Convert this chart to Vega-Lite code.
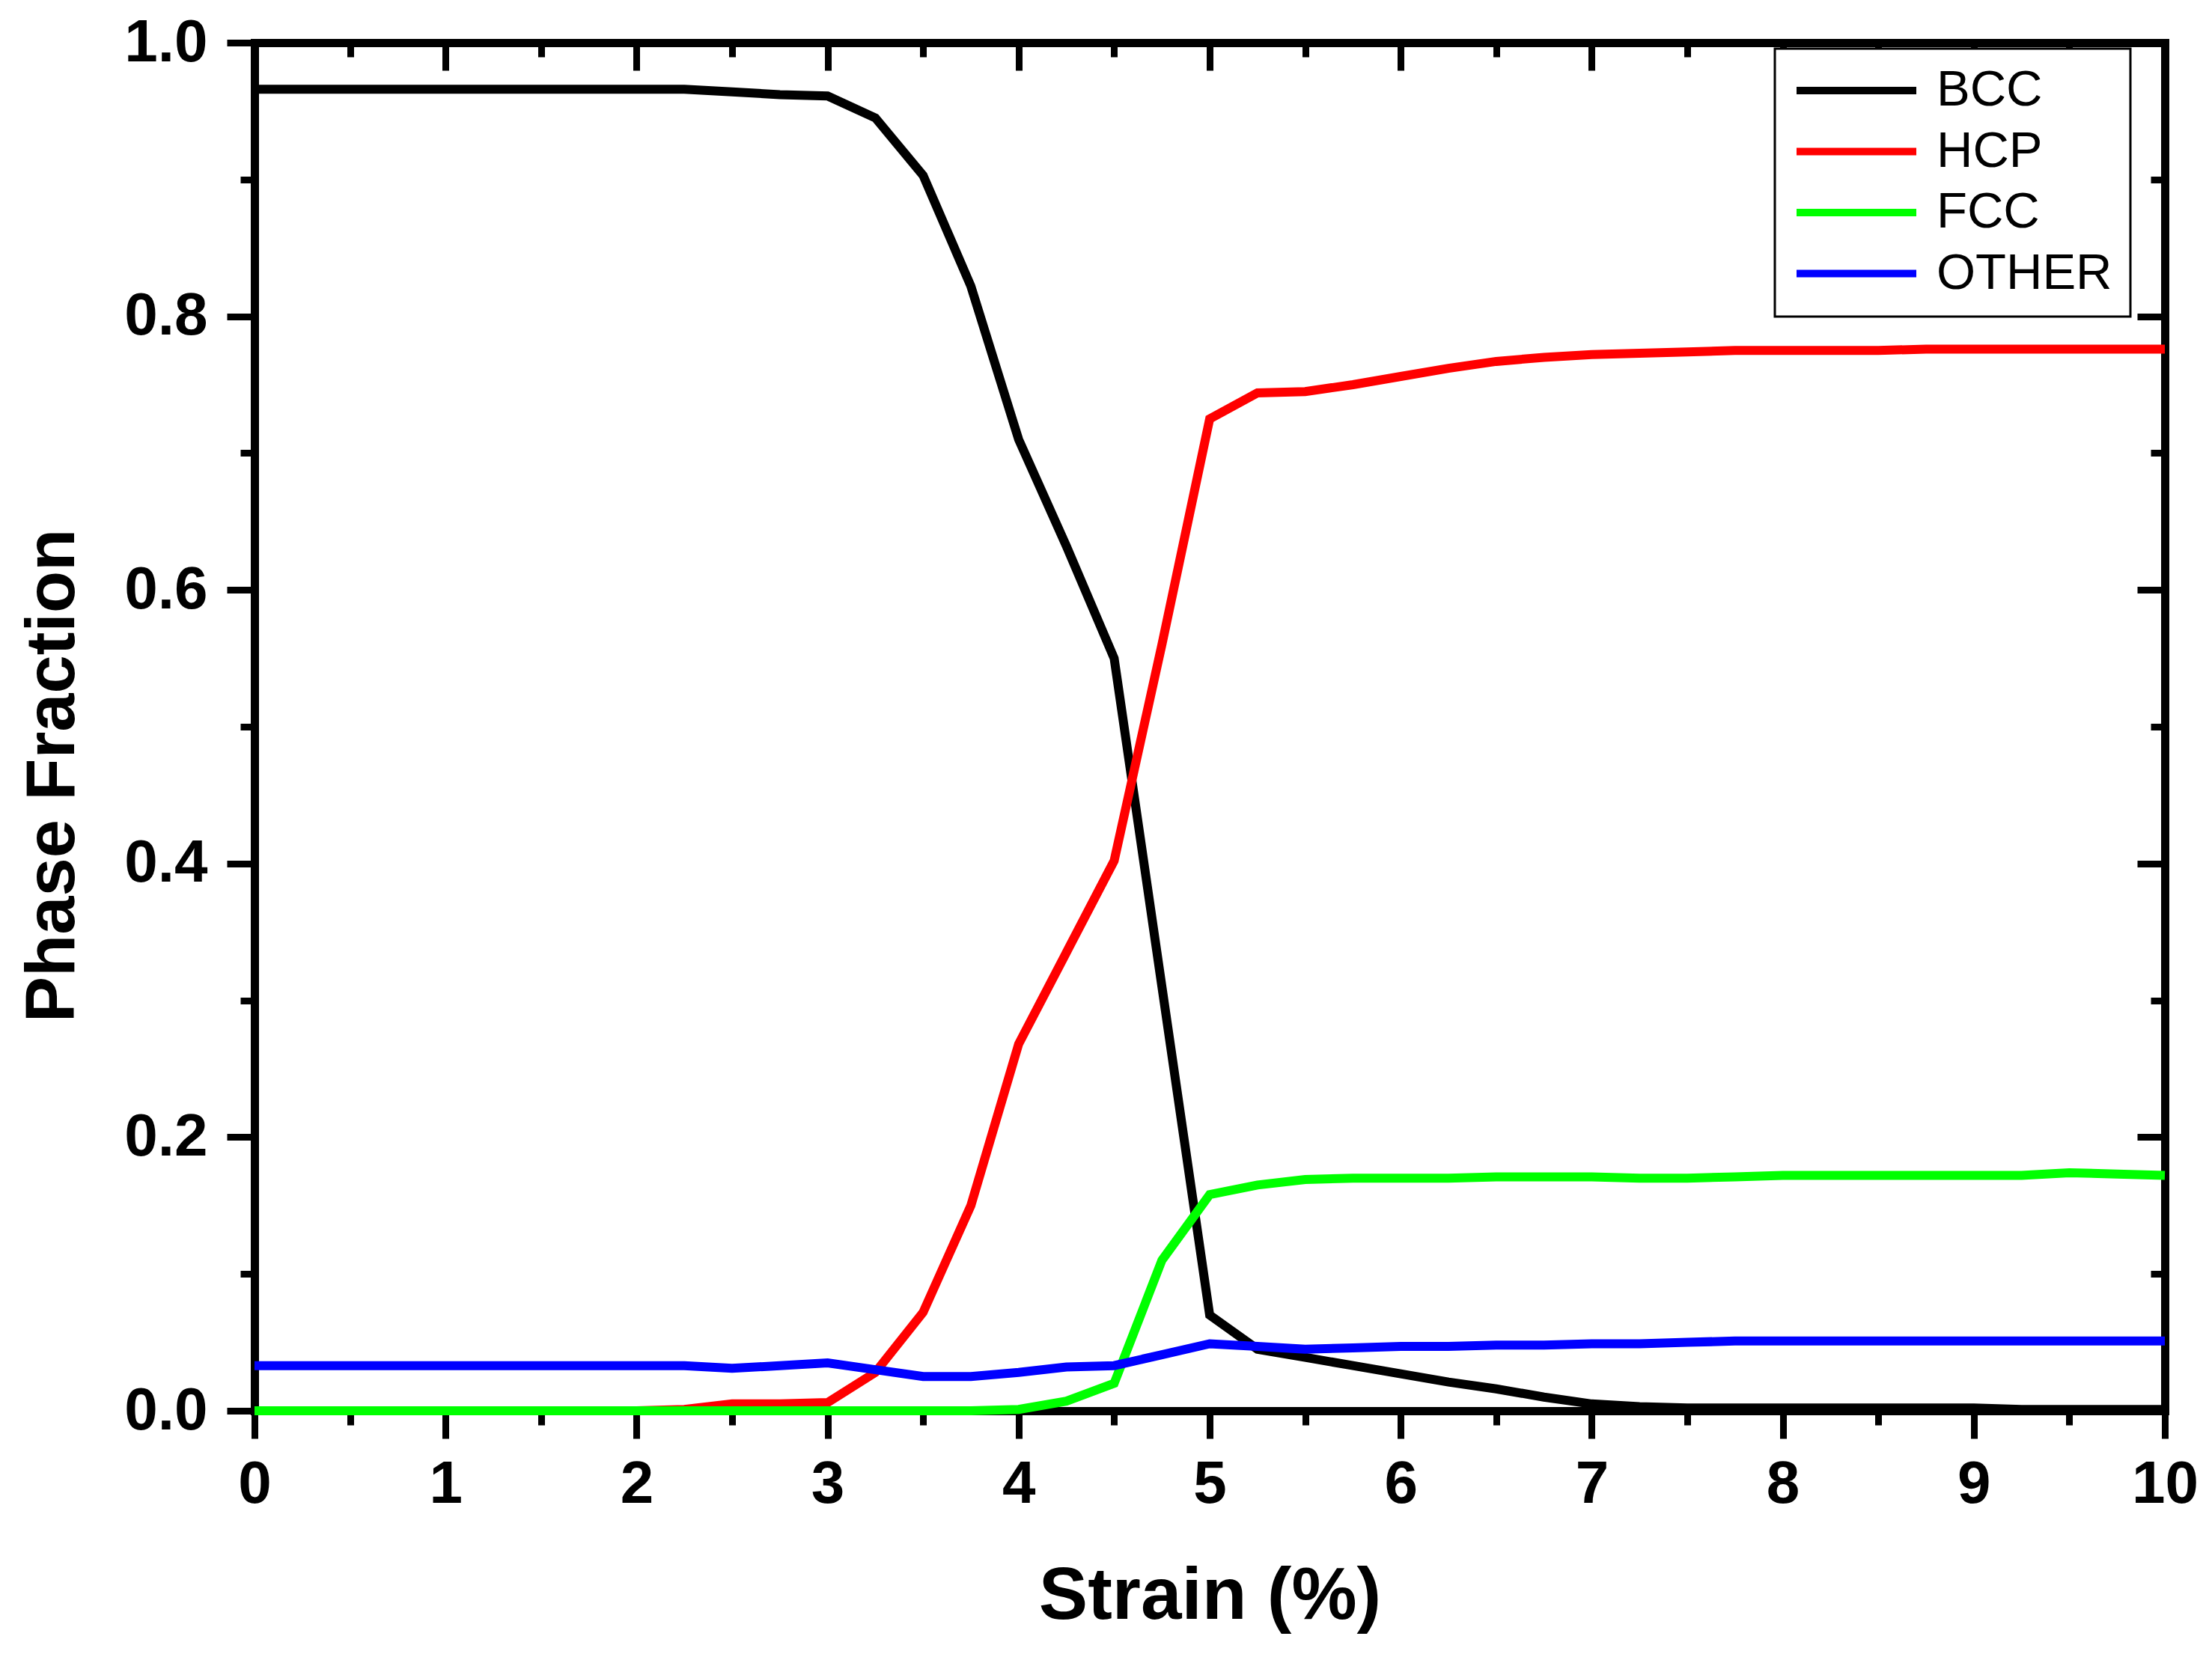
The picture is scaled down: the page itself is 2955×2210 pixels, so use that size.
{
  "$schema": "https://vega.github.io/schema/vega-lite/v6.json",
  "autosize": {"type": "none"},
  "padding": {"left": 340, "top": 57, "right": 63, "bottom": 325},
  "width": 2552,
  "height": 1828,
  "background": "white",
  "config": {
    "view": {"stroke": null},
    "legend": {"strokeWidth": 3},
    "axis": {
      "grid": false,
      "labelFont": "Liberation Sans",
      "labelFontWeight": "bold",
      "labelColor": "black",
      "titleFont": "Liberation Sans",
      "titleFontWeight": "bold",
      "titleColor": "black",
      "domainColor": "black",
      "domainWidth": 11,
      "domainCap": "square",
      "tickColor": "black",
      "tickWidth": 9,
      "labelFlush": false,
      "labelOverlap": false,
      "labelBound": false
    }
  },
  "data": {
    "values": [
      {"strain": 0, "phase": "BCC", "fraction": 0.966},
      {"strain": 0.25, "phase": "BCC", "fraction": 0.966},
      {"strain": 0.5, "phase": "BCC", "fraction": 0.966},
      {"strain": 0.75, "phase": "BCC", "fraction": 0.966},
      {"strain": 1, "phase": "BCC", "fraction": 0.966},
      {"strain": 1.25, "phase": "BCC", "fraction": 0.966},
      {"strain": 1.5, "phase": "BCC", "fraction": 0.966},
      {"strain": 1.75, "phase": "BCC", "fraction": 0.966},
      {"strain": 2, "phase": "BCC", "fraction": 0.966},
      {"strain": 2.25, "phase": "BCC", "fraction": 0.966},
      {"strain": 2.5, "phase": "BCC", "fraction": 0.964},
      {"strain": 2.75, "phase": "BCC", "fraction": 0.962},
      {"strain": 3, "phase": "BCC", "fraction": 0.961},
      {"strain": 3.25, "phase": "BCC", "fraction": 0.945},
      {"strain": 3.5, "phase": "BCC", "fraction": 0.903},
      {"strain": 3.75, "phase": "BCC", "fraction": 0.822},
      {"strain": 4, "phase": "BCC", "fraction": 0.71},
      {"strain": 4.25, "phase": "BCC", "fraction": 0.632},
      {"strain": 4.5, "phase": "BCC", "fraction": 0.55},
      {"strain": 4.75, "phase": "BCC", "fraction": 0.31},
      {"strain": 5, "phase": "BCC", "fraction": 0.07},
      {"strain": 5.25, "phase": "BCC", "fraction": 0.045},
      {"strain": 5.5, "phase": "BCC", "fraction": 0.039},
      {"strain": 5.75, "phase": "BCC", "fraction": 0.033},
      {"strain": 6, "phase": "BCC", "fraction": 0.027},
      {"strain": 6.25, "phase": "BCC", "fraction": 0.021},
      {"strain": 6.5, "phase": "BCC", "fraction": 0.016},
      {"strain": 6.75, "phase": "BCC", "fraction": 0.01},
      {"strain": 7, "phase": "BCC", "fraction": 0.005},
      {"strain": 7.25, "phase": "BCC", "fraction": 0.003},
      {"strain": 7.5, "phase": "BCC", "fraction": 0.002},
      {"strain": 7.75, "phase": "BCC", "fraction": 0.002},
      {"strain": 8, "phase": "BCC", "fraction": 0.002},
      {"strain": 8.25, "phase": "BCC", "fraction": 0.002},
      {"strain": 8.5, "phase": "BCC", "fraction": 0.002},
      {"strain": 8.75, "phase": "BCC", "fraction": 0.002},
      {"strain": 9, "phase": "BCC", "fraction": 0.002},
      {"strain": 9.25, "phase": "BCC", "fraction": 0.001},
      {"strain": 9.5, "phase": "BCC", "fraction": 0.001},
      {"strain": 9.75, "phase": "BCC", "fraction": 0.001},
      {"strain": 10, "phase": "BCC", "fraction": 0.001},

      {"strain": 0, "phase": "HCP", "fraction": 0},
      {"strain": 0.25, "phase": "HCP", "fraction": 0},
      {"strain": 0.5, "phase": "HCP", "fraction": 0},
      {"strain": 0.75, "phase": "HCP", "fraction": 0},
      {"strain": 1, "phase": "HCP", "fraction": 0},
      {"strain": 1.25, "phase": "HCP", "fraction": 0},
      {"strain": 1.5, "phase": "HCP", "fraction": 0},
      {"strain": 1.75, "phase": "HCP", "fraction": 0},
      {"strain": 2, "phase": "HCP", "fraction": 0},
      {"strain": 2.25, "phase": "HCP", "fraction": 0.001},
      {"strain": 2.5, "phase": "HCP", "fraction": 0.005},
      {"strain": 2.75, "phase": "HCP", "fraction": 0.005},
      {"strain": 3, "phase": "HCP", "fraction": 0.006},
      {"strain": 3.25, "phase": "HCP", "fraction": 0.028},
      {"strain": 3.5, "phase": "HCP", "fraction": 0.072},
      {"strain": 3.75, "phase": "HCP", "fraction": 0.15},
      {"strain": 4, "phase": "HCP", "fraction": 0.268},
      {"strain": 4.25, "phase": "HCP", "fraction": 0.335},
      {"strain": 4.5, "phase": "HCP", "fraction": 0.402},
      {"strain": 4.75, "phase": "HCP", "fraction": 0.56},
      {"strain": 5, "phase": "HCP", "fraction": 0.725},
      {"strain": 5.25, "phase": "HCP", "fraction": 0.744},
      {"strain": 5.5, "phase": "HCP", "fraction": 0.745},
      {"strain": 5.75, "phase": "HCP", "fraction": 0.75},
      {"strain": 6, "phase": "HCP", "fraction": 0.756},
      {"strain": 6.25, "phase": "HCP", "fraction": 0.762},
      {"strain": 6.5, "phase": "HCP", "fraction": 0.767},
      {"strain": 6.75, "phase": "HCP", "fraction": 0.77},
      {"strain": 7, "phase": "HCP", "fraction": 0.772},
      {"strain": 7.25, "phase": "HCP", "fraction": 0.773},
      {"strain": 7.5, "phase": "HCP", "fraction": 0.774},
      {"strain": 7.75, "phase": "HCP", "fraction": 0.775},
      {"strain": 8, "phase": "HCP", "fraction": 0.775},
      {"strain": 8.25, "phase": "HCP", "fraction": 0.775},
      {"strain": 8.5, "phase": "HCP", "fraction": 0.775},
      {"strain": 8.75, "phase": "HCP", "fraction": 0.776},
      {"strain": 9, "phase": "HCP", "fraction": 0.776},
      {"strain": 9.25, "phase": "HCP", "fraction": 0.776},
      {"strain": 9.5, "phase": "HCP", "fraction": 0.776},
      {"strain": 9.75, "phase": "HCP", "fraction": 0.776},
      {"strain": 10, "phase": "HCP", "fraction": 0.776},

      {"strain": 0, "phase": "FCC", "fraction": 0},
      {"strain": 0.25, "phase": "FCC", "fraction": 0},
      {"strain": 0.5, "phase": "FCC", "fraction": 0},
      {"strain": 0.75, "phase": "FCC", "fraction": 0},
      {"strain": 1, "phase": "FCC", "fraction": 0},
      {"strain": 1.25, "phase": "FCC", "fraction": 0},
      {"strain": 1.5, "phase": "FCC", "fraction": 0},
      {"strain": 1.75, "phase": "FCC", "fraction": 0},
      {"strain": 2, "phase": "FCC", "fraction": 0},
      {"strain": 2.25, "phase": "FCC", "fraction": 0},
      {"strain": 2.5, "phase": "FCC", "fraction": 0},
      {"strain": 2.75, "phase": "FCC", "fraction": 0},
      {"strain": 3, "phase": "FCC", "fraction": 0},
      {"strain": 3.25, "phase": "FCC", "fraction": 0},
      {"strain": 3.5, "phase": "FCC", "fraction": 0},
      {"strain": 3.75, "phase": "FCC", "fraction": 0},
      {"strain": 4, "phase": "FCC", "fraction": 0.001},
      {"strain": 4.25, "phase": "FCC", "fraction": 0.007},
      {"strain": 4.5, "phase": "FCC", "fraction": 0.02},
      {"strain": 4.75, "phase": "FCC", "fraction": 0.11},
      {"strain": 5, "phase": "FCC", "fraction": 0.158},
      {"strain": 5.25, "phase": "FCC", "fraction": 0.165},
      {"strain": 5.5, "phase": "FCC", "fraction": 0.169},
      {"strain": 5.75, "phase": "FCC", "fraction": 0.17},
      {"strain": 6, "phase": "FCC", "fraction": 0.17},
      {"strain": 6.25, "phase": "FCC", "fraction": 0.17},
      {"strain": 6.5, "phase": "FCC", "fraction": 0.171},
      {"strain": 6.75, "phase": "FCC", "fraction": 0.171},
      {"strain": 7, "phase": "FCC", "fraction": 0.171},
      {"strain": 7.25, "phase": "FCC", "fraction": 0.17},
      {"strain": 7.5, "phase": "FCC", "fraction": 0.17},
      {"strain": 7.75, "phase": "FCC", "fraction": 0.171},
      {"strain": 8, "phase": "FCC", "fraction": 0.172},
      {"strain": 8.25, "phase": "FCC", "fraction": 0.172},
      {"strain": 8.5, "phase": "FCC", "fraction": 0.172},
      {"strain": 8.75, "phase": "FCC", "fraction": 0.172},
      {"strain": 9, "phase": "FCC", "fraction": 0.172},
      {"strain": 9.25, "phase": "FCC", "fraction": 0.172},
      {"strain": 9.5, "phase": "FCC", "fraction": 0.174},
      {"strain": 9.75, "phase": "FCC", "fraction": 0.173},
      {"strain": 10, "phase": "FCC", "fraction": 0.172},

      {"strain": 0, "phase": "OTHER", "fraction": 0.033},
      {"strain": 0.25, "phase": "OTHER", "fraction": 0.033},
      {"strain": 0.5, "phase": "OTHER", "fraction": 0.033},
      {"strain": 0.75, "phase": "OTHER", "fraction": 0.033},
      {"strain": 1, "phase": "OTHER", "fraction": 0.033},
      {"strain": 1.25, "phase": "OTHER", "fraction": 0.033},
      {"strain": 1.5, "phase": "OTHER", "fraction": 0.033},
      {"strain": 1.75, "phase": "OTHER", "fraction": 0.033},
      {"strain": 2, "phase": "OTHER", "fraction": 0.033},
      {"strain": 2.25, "phase": "OTHER", "fraction": 0.033},
      {"strain": 2.5, "phase": "OTHER", "fraction": 0.031},
      {"strain": 2.75, "phase": "OTHER", "fraction": 0.033},
      {"strain": 3, "phase": "OTHER", "fraction": 0.035},
      {"strain": 3.25, "phase": "OTHER", "fraction": 0.03},
      {"strain": 3.5, "phase": "OTHER", "fraction": 0.025},
      {"strain": 3.75, "phase": "OTHER", "fraction": 0.025},
      {"strain": 4, "phase": "OTHER", "fraction": 0.028},
      {"strain": 4.25, "phase": "OTHER", "fraction": 0.032},
      {"strain": 4.5, "phase": "OTHER", "fraction": 0.033},
      {"strain": 4.75, "phase": "OTHER", "fraction": 0.041},
      {"strain": 5, "phase": "OTHER", "fraction": 0.049},
      {"strain": 5.25, "phase": "OTHER", "fraction": 0.047},
      {"strain": 5.5, "phase": "OTHER", "fraction": 0.045},
      {"strain": 5.75, "phase": "OTHER", "fraction": 0.046},
      {"strain": 6, "phase": "OTHER", "fraction": 0.047},
      {"strain": 6.25, "phase": "OTHER", "fraction": 0.047},
      {"strain": 6.5, "phase": "OTHER", "fraction": 0.048},
      {"strain": 6.75, "phase": "OTHER", "fraction": 0.048},
      {"strain": 7, "phase": "OTHER", "fraction": 0.049},
      {"strain": 7.25, "phase": "OTHER", "fraction": 0.049},
      {"strain": 7.5, "phase": "OTHER", "fraction": 0.05},
      {"strain": 7.75, "phase": "OTHER", "fraction": 0.051},
      {"strain": 8, "phase": "OTHER", "fraction": 0.051},
      {"strain": 8.25, "phase": "OTHER", "fraction": 0.051},
      {"strain": 8.5, "phase": "OTHER", "fraction": 0.051},
      {"strain": 8.75, "phase": "OTHER", "fraction": 0.051},
      {"strain": 9, "phase": "OTHER", "fraction": 0.051},
      {"strain": 9.25, "phase": "OTHER", "fraction": 0.051},
      {"strain": 9.5, "phase": "OTHER", "fraction": 0.051},
      {"strain": 9.75, "phase": "OTHER", "fraction": 0.051},
      {"strain": 10, "phase": "OTHER", "fraction": 0.051}
    ]
  },
  "layer": [
    {
      "mark": {"type": "point", "opacity": 0},
      "encoding": {
        "x": {"field": "strain", "type": "quantitative", "scale": {"domain": [0, 10], "nice": false, "zero": false},
              "axis": {"orient": "top", "values": [0,1,2,3,4,5,6,7,8,9,10], "tickSize": -37, "labels": false, "title": null, "domain": true}},
        "y": {"field": "fraction", "type": "quantitative", "scale": {"domain": [0, 1], "nice": false},
              "axis": {"orient": "right", "values": [0,0.2,0.4,0.6,0.8,1.0], "tickSize": -37, "labels": false, "title": null, "domain": true}}
      }
    },
    {
      "mark": {"type": "point", "opacity": 0},
      "encoding": {
        "x": {"field": "strain", "type": "quantitative",
              "axis": {"orient": "top", "values": [0.5,1.5,2.5,3.5,4.5,5.5,6.5,7.5,8.5,9.5], "tickSize": -19, "labels": false, "title": null, "domain": false}},
        "y": {"field": "fraction", "type": "quantitative",
              "axis": {"orient": "right", "values": [0.1,0.3,0.5,0.7,0.9], "tickSize": -19, "labels": false, "title": null, "domain": false}}
      }
    },
    {
      "mark": {"type": "point", "opacity": 0},
      "encoding": {
        "x": {"field": "strain", "type": "quantitative",
              "axis": {"orient": "bottom", "values": [0.5,1.5,2.5,3.5,4.5,5.5,6.5,7.5,8.5,9.5], "tickSize": 19, "labels": false, "title": null, "domain": false}},
        "y": {"field": "fraction", "type": "quantitative",
              "axis": {"orient": "left", "values": [0.1,0.3,0.5,0.7,0.9], "tickSize": 19, "labels": false, "title": null, "domain": false}}
      }
    },
    {
      "mark": {"type": "line", "strokeWidth": 12},
      "encoding": {
        "x": {"field": "strain", "type": "quantitative",
              "axis": {"orient": "bottom", "values": [0,1,2,3,4,5,6,7,8,9,10], "tickSize": 37, "labelFontSize": 80, "labelPadding": 22,
                       "title": "Strain (%)", "titleFontSize": 98, "titleX": 1276, "titleY": 277, "titleBaseline": "alphabetic", "titleAlign": "center", "domain": true}},
        "y": {"field": "fraction", "type": "quantitative",
              "axis": {"orient": "left", "values": [0,0.2,0.4,0.6,0.8,1.0], "format": ".1f", "tickSize": 37, "labelFontSize": 80, "labelPadding": 26,
                       "title": "Phase Fraction", "titleFontSize": 92, "titleAngle": -90, "titleX": -242, "titleY": 979, "titleBaseline": "alphabetic", "titleAlign": "center", "domain": true}},
        "color": {"field": "phase", "type": "nominal",
                  "scale": {"domain": ["BCC", "HCP", "FCC", "OTHER"], "range": ["#000000", "#ff0000", "#00ff00", "#0000ff"]},
                  "legend": {"title": null, "orient": "none", "legendX": 2031, "legendY": 8, "padding": 24,
                             "strokeColor": "black", "fillColor": "white",
                             "symbolType": "stroke", "symbolSize": 25600, "symbolStrokeWidth": 10,
                             "labelFont": "Liberation Sans", "labelFontSize": 67, "labelColor": "black", "labelOffset": 22,
                             "labelLimit": 700, "clipHeight": 64,
                             "rowPadding": 14.5}}
      }
    }
  ],
  "resolve": {"axis": {"x": "independent", "y": "independent"}}
}
